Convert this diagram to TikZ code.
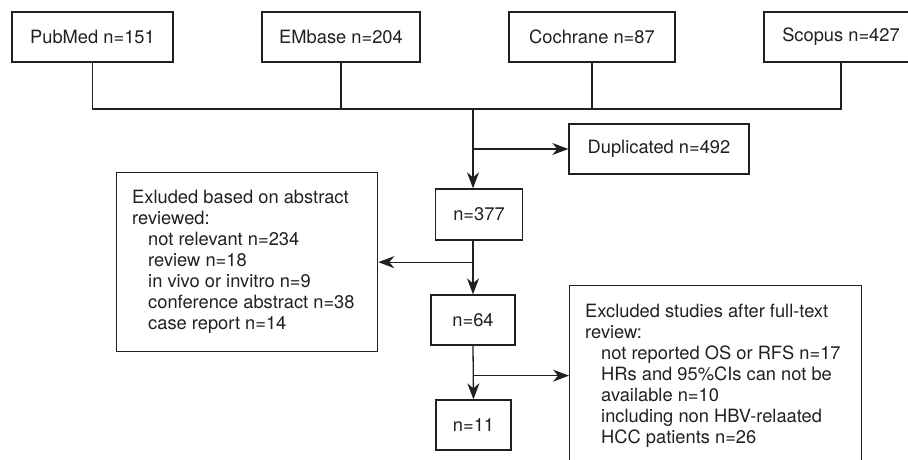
\documentclass[tikz,border=0pt]{standalone}
\usepackage{fontspec}
\setmainfont{TeX Gyre Heros}
\usetikzlibrary{arrows.meta,calc}
\definecolor{ink}{RGB}{35,31,32}
\begin{document}
\begin{tikzpicture}[x=1pt,y=-1pt,
  txt/.style={text=ink, inner sep=0pt, font=\fontsize{18.3}{21}\selectfont},
  box/.style={txt, draw=ink, line width=1.3pt, minimum height=50pt},
  frame/.style={draw=ink, line width=1.3pt, anchor=north west, inner sep=0pt},
  ln/.style={draw=ink, line width=1.3pt},
  arr/.style={ln, -{Stealth[length=16pt,width=12pt,inset=5pt]}}]
\useasboundingbox (0,0) rectangle (908,459);
% sources
\node[box, minimum width=161pt] (pubmed)   at (92.5,37) {PubMed n=151};
\node[box, minimum width=158pt] (embase)   at (341,37)  {EMbase n=204};
\node[box, minimum width=166pt] (cochrane) at (592,37)  {Cochrane n=87};
\node[box, minimum width=154pt] (scopus)   at (841,37)  {Scopus n=427};
% screening
\node[box, minimum width=180pt, minimum height=50pt] (dup)  at (659,149)   {Duplicated n=492};
\node[box, minimum width=87pt,  minimum height=51pt] (n377) at (479,214.5) {n=377};
\node[box, minimum width=84pt]  (n64) at (473,320)   {n=64};
\node[box, minimum width=75pt]  (n11) at (473.5,425) {n=11};
% exclusion boxes
\node[frame, minimum width=261pt, minimum height=179pt] (abstract) at (116,172) {};
\node[txt, align=left, anchor=west] (abstracttxt) at ($(abstract.west)+(16,0)$)
  {Exluded based on abstract\\reviewed:\\
   \hspace*{16pt}not relevant n=234\\
   \hspace*{16pt}review n=18\\
   \hspace*{16pt}in vivo or invitro n=9\\
   \hspace*{16pt}conference abstract n=38\\
   \hspace*{16pt}case report n=14};
\node[frame, minimum width=292pt, minimum height=180pt] (fulltext) at (569,285) {};
\node[txt, align=left, anchor=west] (fulltexttxt) at ($(fulltext.west)+(16,0)$)
  {Excluded studies after full-text\\review:\\
   \hspace*{16pt}not reported OS or RFS n=17\\
   \hspace*{16pt}HRs and 95\%CIs can not be\\
   \hspace*{16pt}available n=10\\
   \hspace*{16pt}including non HBV-relaated\\
   \hspace*{16pt}HCC patients n=26};
% connectors
\coordinate (join) at (473,109);
\draw[ln] (pubmed.south) |- (join) -| (scopus.south);
\draw[ln] (embase.south) -- (embase.south |- join);
\draw[ln] (cochrane.south) -- (cochrane.south |- join);
\draw[arr] (join) -- (join |- n377.north);
\draw[arr] (join |- dup.west) -- (dup.west);
\draw[arr] (n377.south -| join) -- (n64.north);
\draw[arr] (abstract.east -| join) -- (abstract.east);
\draw[arr] (n64.south) -- (n11.north);
\draw[arr] (fulltext.west -| join) -- (fulltext.west);
\end{tikzpicture}
\end{document}
